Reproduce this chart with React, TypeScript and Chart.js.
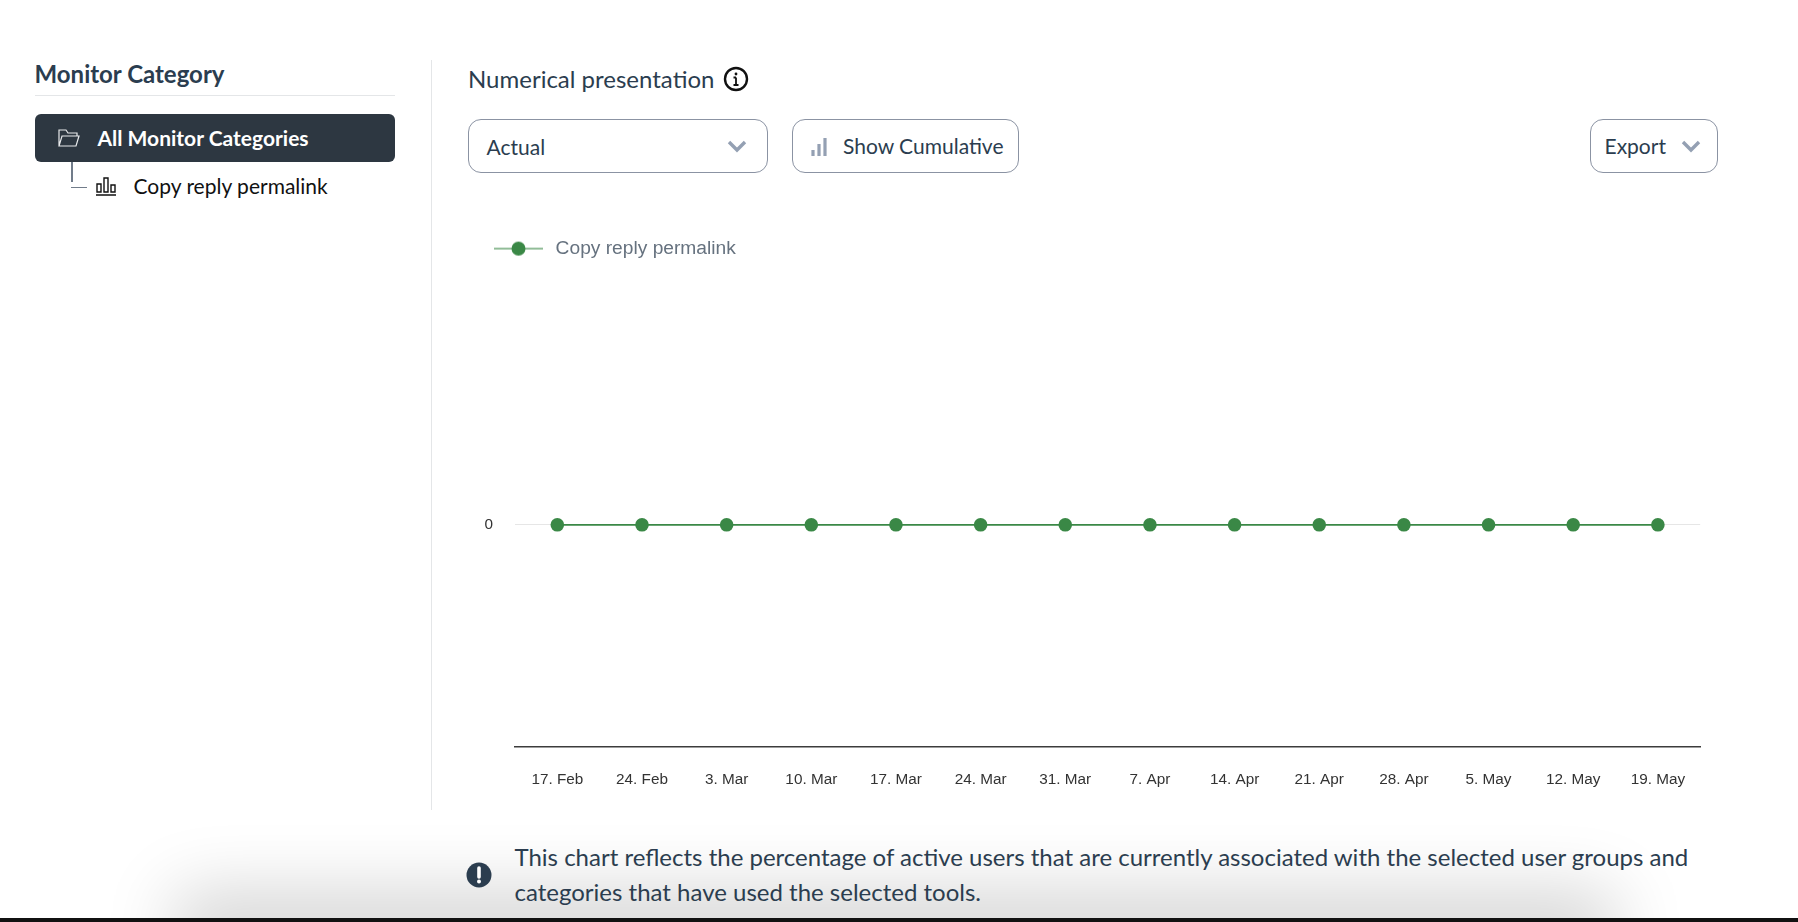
import { useEffect, useRef } from "react";
import { Chart, registerables } from "chart.js";

Chart.register(...registerables);

const weeks = [
  "17. Feb", "24. Feb", "3. Mar", "10. Mar", "17. Mar", "24. Mar", "31. Mar",
  "7. Apr", "14. Apr", "21. Apr", "28. Apr", "5. May", "12. May", "19. May",
];
const copyReplyValues = [0, 0, 0, 0, 0, 0, 0, 0, 0, 0, 0, 0, 0, 0];
const seriesName = "Copy reply permalink";

const GREEN = "#3a8846";
const INK = "#2b3d4f";
const EDGE = "#8b93a3";
const CHEVRON = "#94a0b3";

// legend symbol: line with a dot on it
function legendSymbol() {
  const c = document.createElement("canvas");
  c.width = 52;
  c.height = 16;
  const ctx = c.getContext("2d")!;
  ctx.strokeStyle = "#6ea776";
  ctx.lineWidth = 1.5;
  ctx.beginPath();
  ctx.moveTo(0, 8);
  ctx.lineTo(49, 8);
  ctx.stroke();
  ctx.fillStyle = GREEN;
  ctx.beginPath();
  ctx.arc(24.5, 8, 7, 0, Math.PI * 2);
  ctx.fill();
  return c;
}

function UsageChart() {
  const canvasRef = useRef<HTMLCanvasElement>(null);

  useEffect(() => {
    if (!canvasRef.current) return;
    const symbol = legendSymbol();
    const chart = new Chart(canvasRef.current, {
      type: "line",
      data: {
        labels: weeks,
        datasets: [{
          label: seriesName,
          data: copyReplyValues,
          borderColor: GREEN,
          backgroundColor: GREEN,
          borderWidth: 1.7,
          pointRadius: 6.8,
          pointBorderWidth: 0,
          pointBackgroundColor: GREEN,
          tension: 0,
        }],
      },
      options: {
        animation: false,
        responsive: false,
        devicePixelRatio: 1,
        layout: { padding: 0 },
        plugins: {
          tooltip: { enabled: false },
          title: { display: false },
          legend: {
            position: "top",
            align: "start",
            labels: {
              usePointStyle: true,
              pointStyleWidth: 52,
              padding: 44,
              color: "#66727f",
              font: { family: "'Liberation Sans'", size: 19.2 },
              generateLabels: () => [{
                text: seriesName,
                pointStyle: symbol,
                fontColor: "#66727f",
                lineWidth: 0,
                strokeStyle: "transparent",
                fillStyle: "transparent",
              }],
            },
          },
        },
        scales: {
          x: {
            offset: true,
            grid: { display: false },
            border: { display: true, color: "#3c3c3c", width: 1.5 },
            afterFit: (s: any) => { s.height = 63; },
            ticks: {
              autoSkip: false,
              maxRotation: 0,
              padding: 16,
              color: "#333333",
              font: { family: "'Liberation Sans'", size: 15.3 },
            },
          },
          y: {
            min: -1,
            max: 1.155,
            border: { display: false },
            grid: { color: "#e6e6e6", lineWidth: 1, drawTicks: false },
            afterFit: (s: any) => { s.width = 65; },
            ticks: {
              stepSize: 1,
              padding: 22,
              color: "#333333",
              font: { family: "'Liberation Sans'", size: 15.3 },
              callback: (v: any) => (v === 0 ? "0" : null),
            },
          },
        },
      },
    });
    return () => chart.destroy();
  }, []);

  return (
    <canvas
      ref={canvasRef}
      width={1257}
      height={615}
      style={{ position: "absolute", left: 450, top: 195, width: 1257, height: 615 }}
    />
  );
}

function Chevron({ x, y }: { x: number; y: number }) {
  return (
    <svg width="20" height="14" style={{ position: "absolute", left: x - 10, top: y - 7 }}>
      <path d="M2 3 L10 11 L18 3" fill="none" stroke={CHEVRON} strokeWidth="3.4" />
    </svg>
  );
}

function Box({ x, y, w, h }: { x: number; y: number; w: number; h: number }) {
  return (
    <div style={{
      position: "absolute", left: x, top: y, width: w, height: h, boxSizing: "border-box",
      border: `1px solid ${EDGE}`, borderRadius: 13, background: "#fff",
    }} />
  );
}

function Label({ x, cy, size, color = INK, weight = 400, children }: any) {
  return (
    <div style={{
      position: "absolute", left: x, top: cy - 20, height: 40, lineHeight: "40px",
      fontFamily: "Lato", fontSize: size, fontWeight: weight, color, whiteSpace: "nowrap",
    }}>
      {children}
    </div>
  );
}

export default function App() {
  useEffect(() => {
    document.body.style.margin = "0";
    document.body.style.overflow = "hidden";
  }, []);

  return (
    <div style={{ position: "relative", width: 1798, height: 922, overflow: "hidden", background: "#fff" }}>
      {/* bottom shadow */}
      <div style={{
        position: "absolute", left: 200, width: 1390, top: 918, height: 20,
        boxShadow: "0 0 70px 25px rgba(0,0,0,0.18)",
      }} />

      {/* left panel */}
      <Label x={34.5} cy={73.5} size={24} weight={700}>Monitor Category</Label>
      <div style={{ position: "absolute", left: 35, top: 95, width: 360, height: 1, background: "#e4e6e8" }} />
      <div style={{ position: "absolute", left: 35, top: 114, width: 360, height: 48, borderRadius: 6, background: "#2d3741" }} />
      <svg width="24" height="22" style={{ position: "absolute", left: 58, top: 127 }}>
        <path d="M1 19 V3 H8 L10 6 H19 V9 M1 19 L4 9 H21 L18 19 Z" fill="none" stroke="#e8eaec" strokeWidth="1.2" />
      </svg>
      <Label x={97.5} cy={138} size={21} color="#fff" weight={700}>All Monitor Categories</Label>
      <div style={{ position: "absolute", left: 71, top: 162, width: 1.5, height: 20, background: "#717c8a" }} />
      <div style={{ position: "absolute", left: 71, top: 186.5, width: 16, height: 1.5, background: "#717c8a" }} />
      <svg width="22" height="20" style={{ position: "absolute", left: 95, top: 177 }}>
        <path d="M1 18 H21 M2 15 V7 H6 V15 Z M9 15 V1 H13 V15 Z M16 15 V8 H20 V15 Z" fill="none" stroke="#111" strokeWidth="1.4" />
      </svg>
      <Label x={133.5} cy={186} size={21} color="#111">Copy reply permalink</Label>
      <div style={{ position: "absolute", left: 431, top: 60, width: 1, height: 750, background: "#e4e6e8" }} />

      {/* header + controls */}
      <Label x={468} cy={79} size={24}>Numerical presentation</Label>
      <svg width="26" height="26" style={{ position: "absolute", left: 723, top: 66 }}>
        <circle cx="13" cy="13" r="11" fill="none" stroke="#111" strokeWidth="2.4" />
        <path d="M13 11.5 V19 M10.5 19 H15.5 M10.5 11.5 H13" fill="none" stroke="#111" strokeWidth="1.8" />
        <circle cx="13" cy="8" r="1.4" fill="#111" />
      </svg>

      <Box x={468} y={119} w={300} h={54} />
      <Label x={486.5} cy={147} size={21}>Actual</Label>
      <Chevron x={737} y={146} />

      <Box x={792} y={119} w={227} h={54} />
      <svg width="18" height="20" style={{ position: "absolute", left: 810, top: 137 }}>
        <path d="M3 19 V13 M9 19 V7 M15 19 V1" fill="none" stroke={CHEVRON} strokeWidth="3.2" />
      </svg>
      <Label x={843} cy={146} size={21}>Show Cumulative</Label>

      <Box x={1590} y={119} w={128} h={54} />
      <Label x={1604.5} cy={146} size={21}>Export</Label>
      <Chevron x={1691} y={146} />

      <UsageChart />

      {/* note */}
      <svg width="26" height="26" style={{ position: "absolute", left: 466, top: 862 }}>
        <circle cx="13" cy="13" r="12.5" fill={INK} />
        <path d="M13 6 V15" stroke="#fff" strokeWidth="3.6" strokeLinecap="round" />
        <circle cx="13" cy="19.5" r="2" fill="#fff" />
      </svg>
      <Label x={514.5} cy={857} size={24}>This chart reflects the percentage of active users that are currently associated with the selected user groups and</Label>
      <Label x={514.5} cy={892} size={24}>categories that have used the selected tools.</Label>

      <div style={{ position: "absolute", left: 0, top: 918, width: 1798, height: 4, background: "#111" }} />
    </div>
  );
}
